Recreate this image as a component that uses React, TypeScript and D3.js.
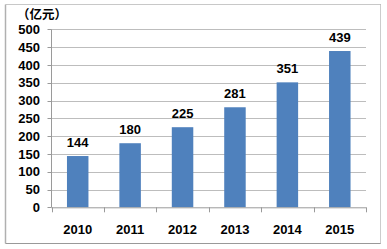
import React from "react";
import * as d3 from "d3";

const years = ["2010", "2011", "2012", "2013", "2014", "2015"];
const values = [144, 180, 225, 281, 351, 439];
const yTicks = [0, 50, 100, 150, 200, 250, 300, 350, 400, 450, 500];
const unitLabel = "（亿元）";

export default function App() {
  const W = 387, H = 249;
  const left = 51.5, right = 366, top = 29.3, bottom = 207.3;
  const x = d3.scaleBand<string>().domain(years).range([left, right]).paddingInner(0.59).paddingOuter(0.295);
  const y = d3.scaleLinear().domain([0, 500]).range([bottom, top]);
  const band = (right - left) / years.length;
  const font = "'Liberation Sans', Arial, sans-serif";
  return (
    <svg width={W} height={H} style={{ position: "absolute", left: 0, top: 0 }}>
      <rect x={0} y={0} width={W} height={H} fill="#fff" />
      {/* frame */}
      <line x1={5.5} y1={4.5} x2={380.5} y2={4.5} stroke="#c8c8c8" />
      <line x1={5.5} y1={4.5} x2={5.5} y2={243.5} stroke="#b0b0b0" strokeWidth={1.5} />
      <line x1={5.5} y1={243.5} x2={380.5} y2={243.5} stroke="#999" strokeWidth={1.2} />
      <line x1={380.5} y1={4.5} x2={380.5} y2={243.5} stroke="#999" strokeDasharray="1,1" />
      {/* gridlines */}
      {yTicks.filter(t => t > 0).map(t => (
        <line key={t} x1={left} x2={right} y1={Math.round(y(t)) + 0.5} y2={Math.round(y(t)) + 0.5} stroke="#bdbdbd" />
      ))}
      {/* y axis */}
      <line x1={left} x2={left} y1={top} y2={bottom} stroke="#9a9a9a" />
      {yTicks.map(t => (
        <g key={t}>
          <line x1={left - 4} x2={left} y1={Math.round(y(t)) + 0.5} y2={Math.round(y(t)) + 0.5} stroke="#9a9a9a" />
          <text x={40} y={y(t)} dy="0.36em" textAnchor="end" fontFamily={font} fontWeight="bold" fontSize={13} fill="#000">{t}</text>
        </g>
      ))}
      {/* bars */}
      {years.map((yr, i) => (
        <g key={yr}>
          <rect x={x(yr)} y={y(values[i])} width={x.bandwidth()} height={bottom - y(values[i])} fill="#4F81BD" />
          <text x={x(yr)! + x.bandwidth() / 2} y={y(values[i]) - 9.5} textAnchor="middle" fontFamily={font} fontWeight="bold" fontSize={13} fill="#000">{values[i]}</text>
          <text x={left + band * (i + 0.5)} y={229} dy="0.36em" textAnchor="middle" fontFamily={font} fontWeight="bold" fontSize={13} fill="#000">{yr}</text>
        </g>
      ))}
      {/* x axis */}
      <line x1={left} x2={right} y1={bottom + 0.5} y2={bottom + 0.5} stroke="#9a9a9a" />
      {d3.range(years.length + 1).map(i => (
        <line key={i} x1={Math.round(left + band * i) + 0.5} x2={Math.round(left + band * i) + 0.5} y1={bottom} y2={bottom + 5} stroke="#9a9a9a" />
      ))}
      <text x={17} y={14.5} dy="0.36em" fontFamily="'Noto Sans CJK SC', sans-serif" fontWeight="bold" fontSize={12.5} fill="#000">{unitLabel}</text>
    </svg>
  );
}
